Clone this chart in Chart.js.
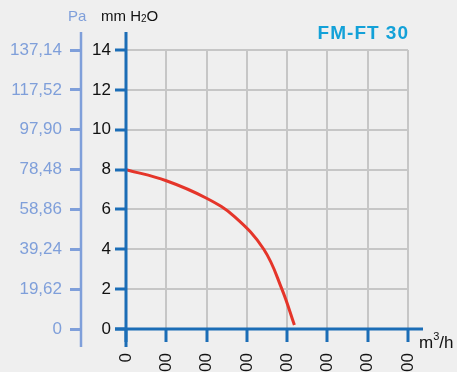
<!DOCTYPE html>
<html>
<head>
<meta charset="utf-8">
<script src="https://cdn.jsdelivr.net/npm/chart.js@4.4.0/dist/chart.umd.min.js"></script>
<style>
  html, body { margin: 0; padding: 0; background: #efefef; overflow: hidden; }
  canvas { display: block; }
</style>
</head>
<body>
<canvas id="fanChart" width="457" height="372"></canvas>
<script>
'use strict';
// fan curve: flow (m3/h) vs pressure (mm H2O)
let flowRates = [0, 100, 200, 270, 342, 387, 418];
let pressures = [8.0, 7.44, 6.56, 5.63, 4.0, 2.0, 0.2];
let flowTicks = [0, 100, 200, 300, 400, 500, 600, 700];
let mmTicks = [0, 2, 4, 6, 8, 10, 12, 14];
let paTicks = ['0', '19,62', '39,24', '58,86', '78,48', '97,90', '117,52', '137,14'];
let chartTitle = 'FM-FT 30';

let mainBlue = '#1b6db6';
let paBlue = '#7f9fda';
let gridGray = '#c6c6c6';
let fontName = '"Liberation Sans", Arial, sans-serif';

let points = [];
for (let i = 0; i < flowRates.length; i++) {
  points.push({ x: flowRates[i], y: pressures[i] });
}

// axis lines that run past the grid, plus the unit labels and the title
let axisDecor = {
  id: 'axisDecor',
  afterDraw(chart) {
    let ctx = chart.ctx;
    let ca = chart.chartArea;
    ctx.save();
    ctx.lineCap = 'butt';

    ctx.strokeStyle = mainBlue;
    ctx.lineWidth = 3;
    ctx.beginPath();
    ctx.moveTo(ca.left, ca.top - 18);
    ctx.lineTo(ca.left, ca.bottom + 18);
    ctx.moveTo(ca.left - 11, ca.bottom);
    ctx.lineTo(ca.right + 15, ca.bottom);
    ctx.stroke();

    let paX = chart.scales.y2.right;
    ctx.strokeStyle = paBlue;
    ctx.lineWidth = 2.5;
    ctx.beginPath();
    ctx.moveTo(paX, ca.top - 18);
    ctx.lineTo(paX, ca.bottom + 18);
    ctx.stroke();

    ctx.textAlign = 'left';
    ctx.textBaseline = 'alphabetic';
    ctx.fillStyle = paBlue;
    ctx.font = '15px ' + fontName;
    ctx.fillText('Pa', 68, 21);

    ctx.fillStyle = '#111';
    let tx = 101;
    ctx.fillText('mm H', tx, 21);
    tx += ctx.measureText('mm H').width;
    ctx.font = '10px ' + fontName;
    ctx.fillText('2', tx, 22);
    tx += ctx.measureText('2').width;
    ctx.font = '15px ' + fontName;
    ctx.fillText('O', tx, 21);

    ctx.font = '17px ' + fontName;
    let ux = ca.right + 11;
    ctx.fillText('m', ux, 348);
    ux += ctx.measureText('m').width;
    ctx.font = '11px ' + fontName;
    ctx.fillText('3', ux, 340);
    ux += ctx.measureText('3').width;
    ctx.font = '17px ' + fontName;
    ctx.fillText('/h', ux, 348);

    ctx.textAlign = 'right';
    ctx.fillStyle = '#13a1d8';
    ctx.font = 'bold 19px ' + fontName;
    ctx.letterSpacing = '1px';
    ctx.fillText(chartTitle, ca.right + 1, 39);
    ctx.restore();
  }
};

let ctx = document.getElementById('fanChart').getContext('2d');
let fanChart = new Chart(ctx, {
  type: 'scatter',
  data: {
    datasets: [{
      data: points,
      showLine: true,
      borderColor: '#e5352a',
      borderWidth: 3,
      pointRadius: 0,
      tension: 0.4
    }]
  },
  options: {
    responsive: false,
    animation: false,
    devicePixelRatio: 1,
    layout: { padding: { top: 50, right: 49, left: 0, bottom: 0 } },
    plugins: { legend: { display: false }, tooltip: { enabled: false } },
    scales: {
      x: {
        type: 'linear',
        position: 'bottom',
        min: flowTicks[0],
        max: flowTicks[flowTicks.length - 1],
        afterBuildTicks(scale) {
          scale.ticks = flowTicks.map(v => ({ value: v }));
        },
        ticks: {
          autoSkip: false,
          minRotation: 90,
          maxRotation: 90,
          padding: 11,
          color: '#111',
          font: { family: fontName, size: 17 },
          callback: v => String(v)
        },
        grid: { color: gridGray, lineWidth: 2, tickColor: mainBlue, tickWidth: 3, tickLength: 13 },
        border: { display: false },
        afterFit(scale) { scale.height = 43; }
      },
      y: {
        position: 'left',
        weight: 0,
        min: 0,
        max: 14,
        afterBuildTicks(scale) {
          scale.ticks = mmTicks.map(v => ({ value: v }));
        },
        ticks: {
          padding: 4,
          color: '#111',
          font: { family: fontName, size: 17 }
        },
        grid: { color: gridGray, lineWidth: 2, tickColor: mainBlue, tickWidth: 3, tickLength: 11 },
        border: { display: false },
        afterFit(scale) { scale.width = 45; }
      },
      y2: {
        position: 'left',
        weight: 1,
        min: 0,
        max: 14,
        afterBuildTicks(scale) {
          scale.ticks = mmTicks.map(v => ({ value: v }));
        },
        ticks: {
          padding: 8,
          color: paBlue,
          font: { family: fontName, size: 17 },
          callback: (v, i) => paTicks[i]
        },
        grid: { drawOnChartArea: false, tickColor: paBlue, tickWidth: 3, tickLength: 11 },
        border: { display: false },
        afterFit(scale) { scale.width = 81; }
      }
    }
  },
  plugins: [axisDecor]
});
</script>
</body>
</html>
